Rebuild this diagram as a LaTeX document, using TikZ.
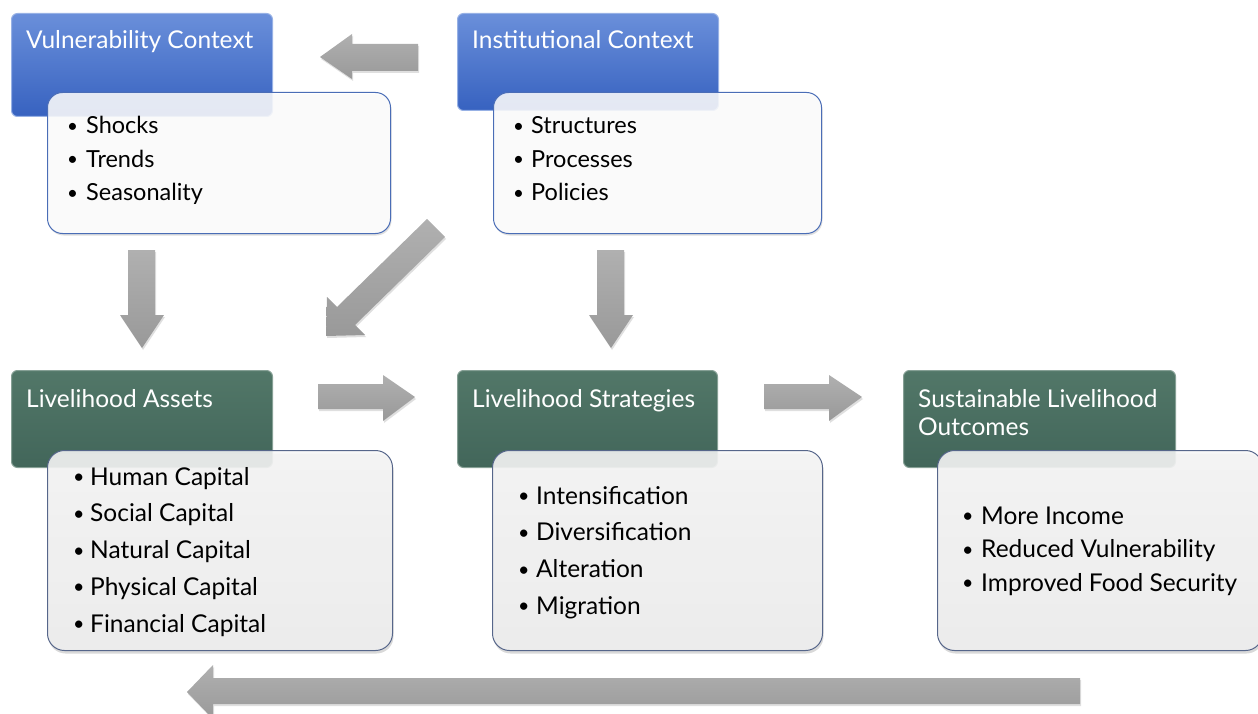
\documentclass[tikz,border=0pt]{standalone}
\usepackage{fontspec}
\usepackage{graphicx}
\setmainfont{Lato}
\usetikzlibrary{shadows}
\definecolor{hblueT}{HTML}{6A8FDA}
\definecolor{hblueB}{HTML}{3762C0}
\definecolor{hgreenT}{HTML}{527768}
\definecolor{hgreenB}{HTML}{42665A}
\definecolor{bblue}{HTML}{4A6DB6}
\definecolor{bgray}{HTML}{56668A}
\definecolor{arrT}{HTML}{B0B0B0}
\definecolor{arrB}{HTML}{999999}
\newcommand{\smbul}{\raisebox{1.5pt}{\scalebox{0.8}{\textbullet}}}
\begin{document}
\begin{tikzpicture}[x=1pt,y=-1pt,
  hdrblue/.style={draw=hblueT!70!white, rounded corners=6pt, top color=hblueT, bottom color=hblueB, line width=1pt, anchor=north west, inner sep=0pt},
  hdrgreen/.style={draw=hgreenT!70!white, rounded corners=6pt, top color=hgreenT, bottom color=hgreenB, line width=1pt, anchor=north west, inner sep=0pt},
  bodytop/.style={draw=bblue, rounded corners=15pt, fill=white, fill opacity=0.85, line width=1pt, anchor=north west, inner sep=0pt,
     drop shadow={opacity=0.25, shadow xshift=1pt, shadow yshift=-2pt}},
  bodybot/.style={draw=bgray, rounded corners=17pt, top color=gray!6, bottom color=gray!13, fill opacity=0.88, line width=1pt, anchor=north west, inner sep=0pt,
     drop shadow={opacity=0.3, shadow xshift=1pt, shadow yshift=-3pt}},
  htext/.style={text=white, font=\fontsize{24.5}{28}\selectfont, anchor=base west, inner sep=0pt},
  btext/.style={text=black, font=\fontsize{23.5}{28}\selectfont, anchor=base west, inner sep=0pt},
  btextb/.style={text=black, font=\fontsize{24.5}{28}\selectfont, anchor=base west, inner sep=0pt},
  blockarrow/.style={top color=arrT, bottom color=arrB, draw=none,
     drop shadow={opacity=0.25, shadow xshift=1pt, shadow yshift=-2pt}},
]
\useasboundingbox (0,0) rectangle (1258,714);

% ---------- arrows ----------
% top: Institutional -> Vulnerability
\path[blockarrow] (320,57) -- (352,34) -- (352,44) -- (418,44) -- (418,71) -- (352,71) -- (352,79) -- cycle;
% down left
\path[blockarrow] (128,250) -- (155,250) -- (155,315) -- (164,315) -- (142,348) -- (120,315) -- (128,315) -- cycle;
% diagonal
\path[blockarrow] (427,219) -- (445,237) -- (355,325) -- (365,335) -- (326,336) -- (327,297) -- (337,307) -- cycle;
% down centre
\path[blockarrow] (597,250) -- (624,250) -- (624,315) -- (633,315) -- (611,348) -- (589,315) -- (597,315) -- cycle;
% right 1
\path[blockarrow] (318,384) -- (383,384) -- (383,375) -- (415,397) -- (383,421) -- (383,409) -- (318,409) -- cycle;
% right 2
\path[blockarrow] (764,384) -- (829,384) -- (829,375) -- (862,397) -- (829,421) -- (829,409) -- (764,409) -- cycle;
% bottom feedback
\path[blockarrow] (187,692) -- (213,665) -- (213,678) -- (1080,678) -- (1080,704) -- (213,704) -- (213,719) -- cycle;

% ---------- Vulnerability Context ----------
\node[hdrblue, minimum width=261pt, minimum height=103pt] (vch) at (11,13) {};
\node[htext] (vct) at (26,49) {Vulnerability Context};
\node[bodytop, minimum width=343pt, minimum height=141pt] (vcb) at (47,92) {};
\foreach \t [count=\i] in {Shocks,Trends,Seasonality}
  \node[btext] (vc\i) at (67,{134+(\i-1)*33.5}) {\makebox[19pt][l]{\smbul}\t};

% ---------- Institutional Context ----------
\node[hdrblue, minimum width=261pt, minimum height=97pt] (ich) at (457,13) {};
\node[htext] (ict) at (472,49) {Institutional Context};
\node[bodytop, minimum width=328pt, minimum height=141pt] (icb) at (493,92) {};
\foreach \t [count=\i] in {Structures,Processes,Policies}
  \node[btext] (ic\i) at (513,{134+(\i-1)*33.5}) {\makebox[18pt][l]{\smbul}\t};

% ---------- Livelihood Assets ----------
\node[hdrgreen, minimum width=261pt, minimum height=97pt] (lah) at (11,370) {};
\node[htext] (lat) at (26,407) {Livelihood Assets};
\node[bodybot, minimum width=345pt, minimum height=200pt] (lab) at (47,450) {};
\foreach \t [count=\i] in {Human Capital,Social Capital,Natural Capital,Physical Capital,Financial Capital}
  \node[btextb] (la\i) at (73,{485+(\i-1)*36.75}) {\makebox[17pt][l]{\smbul}\t};

% ---------- Livelihood Strategies ----------
\node[hdrgreen, minimum width=260pt, minimum height=97pt] (lsh) at (457,370) {};
\node[htext] (lst) at (472,407) {Livelihood Strategies};
\node[bodybot, minimum width=330pt, minimum height=200pt] (lsb) at (492,450) {};
\foreach \t [count=\i] in {Intensification,Diversification,Alteration,Migration}
  \node[btextb] (ls\i) at (518,{504+(\i-1)*36.75}) {\makebox[18pt][l]{\smbul}\t};

% ---------- Sustainable Livelihood Outcomes ----------
\node[hdrgreen, minimum width=272pt, minimum height=97pt] (soh) at (903,370) {};
\node[htext] (sot1) at (918,407) {Sustainable Livelihood};
\node[htext] (sot2) at (918,435) {Outcomes};
\node[bodybot, minimum width=325pt, minimum height=200pt] (sob) at (937,450) {};
\foreach \t [count=\i] in {More Income,Reduced Vulnerability,Improved Food Security}
  \node[btextb] (so\i) at (962,{524+(\i-1)*33.5}) {\makebox[19pt][l]{\smbul}\t};
\end{tikzpicture}
\end{document}
